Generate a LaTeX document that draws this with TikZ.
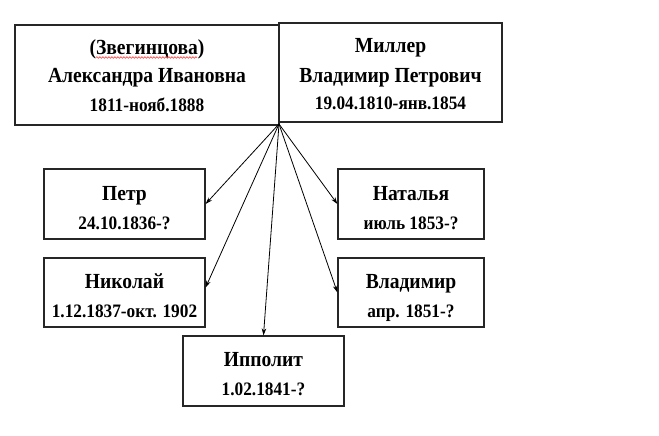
\documentclass[tikz,border=0pt]{standalone}
\usepackage{fontspec}
\setmainfont{Liberation Serif}[FakeStretch=0.91]
\usetikzlibrary{arrows.meta,decorations.pathmorphing}
\begin{document}
\begin{tikzpicture}[x=1pt,y=-1pt,
  box/.style={draw=black!85,line width=1.2pt,inner sep=0pt},
  nm/.style={inner sep=0pt,anchor=base,font=\fontsize{21.5}{26}\selectfont\bfseries},
  dt/.style={inner sep=0pt,anchor=base,font=\fontsize{19}{24}\selectfont\bfseries},
  arr/.style={line width=0.8pt,-{Stealth[length=7pt,width=4.5pt]}}]
\useasboundingbox (0,0) rectangle (659,436);
% parents
\node[box,minimum width=264pt,minimum height=100pt] (mom) at (147,75) {};
\node[nm] (mom1) at (147,54.3) {(Звегинцова)};
\node[nm] (mom2) at (147,83) {Александра Ивановна};
\node[dt] (mom3) at (147,111) {1811-нояб.1888};
\node[box,minimum width=223pt,minimum height=99pt] (dad) at (390.5,72.5) {};
\node[nm] (dad1) at (390.5,53) {Миллер};
\node[nm] (dad2) at (390.5,82) {Владимир Петрович};
\node[dt] (dad3) at (390.5,110) {19.04.1810-янв.1854};
% children
\node[box,minimum width=161pt,minimum height=70pt] (petr) at (124.5,204) {};
\node[nm] (petr1) at (124.5,200) {Петр};
\node[dt] (petr2) at (124.5,229) {24.10.1836-?};
\node[box,minimum width=161pt,minimum height=69pt] (nik) at (124.5,292.5) {};
\node[nm] (nik1) at (124.5,288) {Николай};
\node[dt] (nik2) at (124.5,317) {1.12.1837-окт. 1902};
\node[box,minimum width=146pt,minimum height=70pt] (nat) at (411,204) {};
\node[nm] (nat1) at (411,200) {Наталья};
\node[dt] (nat2) at (411,229) {июль 1853-?};
\node[box,minimum width=146pt,minimum height=69pt] (vlad) at (411,292.5) {};
\node[nm] (vlad1) at (411,288) {Владимир};
\node[dt] (vlad2) at (411,317) {апр. 1851-?};
\node[box,minimum width=161pt,minimum height=70pt] (ipp) at (263.5,371) {};
\node[nm] (ipp1) at (263.5,366) {Ипполит};
\node[dt] (ipp2) at (263.5,395) {1.02.1841-?};
% connectors
\coordinate (j) at (279,124);
\draw[arr] (j) -- (petr.east);
\draw[arr] (j) -- ([yshift=5pt]nik.east);
\draw[arr] (j) -- (ipp.north);
\draw[arr] (j) -- (nat.west);
\draw[arr] (j) -- (vlad.west);
% spell-check underline
\coordinate (sq1) at (96,57.5);
\coordinate (sq2) at (197,57.5);
\draw[red!80,line width=0.6pt,decorate,decoration={snake,amplitude=0.8pt,segment length=3pt}] (sq1) -- (sq2);
\end{tikzpicture}
\end{document}
